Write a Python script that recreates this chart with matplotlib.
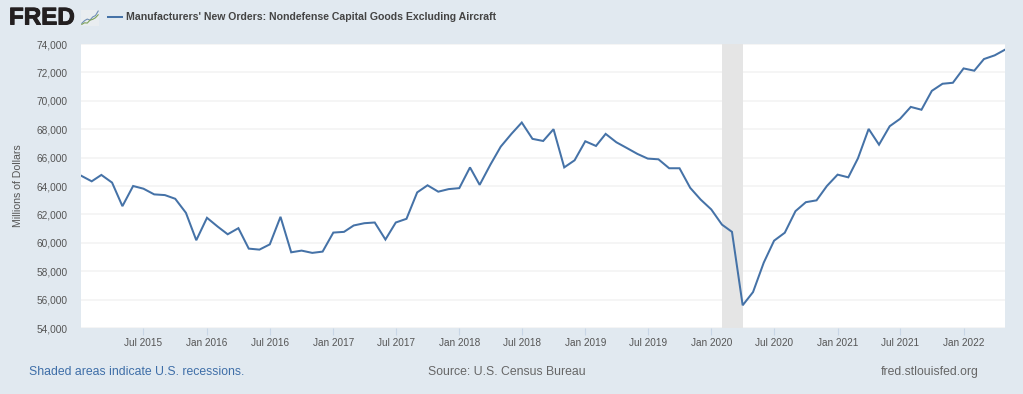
import matplotlib
matplotlib.use('Agg')
import matplotlib.dates as mdates
import matplotlib.patheffects as pe
import matplotlib.pyplot as plt
import pandas as pd

plt.rcParams['font.family'] = ['Liberation Sans', 'DejaVu Sans']

BG = '#e1e9f0'
BLUE = '#4572a7'
W, H = 1023, 394

# monthly values, Jan 2015 to May 2022
orders = [
    64730, 64330, 64780, 64240, 62580, 64000, 63810, 63410, 63360, 63100, 62110, 60180,
    61760, 61140, 60600, 61030, 59590, 59520, 59890, 61830, 59330, 59450, 59290, 59380,
    60720, 60770, 61220, 61380, 61430, 60230, 61430, 61690, 63550, 64050, 63600, 63780,
    63850, 65310, 64080, 65500, 66770, 67670, 68470, 67320, 67170, 68000, 65310, 65810,
    67150, 66820, 67670, 67080, 66680, 66260, 65930, 65880, 65250, 65250, 63870, 63050,
    62350, 61280, 60770, 55600, 56530, 58600, 60150, 60710, 62230, 62860, 62990, 64000,
    64800, 64610, 65950, 68020, 66910, 68210, 68730, 69570, 69370, 70700, 71200, 71270,
    72280, 72120, 72940, 73200, 73600,
]
months = pd.date_range('2015-01-01', periods=len(orders), freq='MS')

recession_start = pd.Timestamp('2020-02-01')
recession_end = pd.Timestamp('2020-04-01')

y_ticks = list(range(54000, 74001, 2000))
x_ticks = pd.date_range('2015-07-01', '2022-01-01', freq='6MS')

# the small chart next to the logo
icon_blue = [1, 2, 2.6, 2.2, 3.4, 3.9, 5.6]
icon_green = [0.6, 1.2, 1.1, 2.2, 2.5, 3.1, 4.2]


def textAt(x, y, s, **kwargs):
    kwargs.setdefault('va', 'center')
    return fig.text(x / W, 1 - y / H, s, **kwargs)


fig = plt.figure(figsize=(W / 100, H / 100), dpi=100, facecolor=BG)
ax = fig.add_axes([81 / W, 1 - 328 / H, 924 / W, 284 / H])

ax.axvspan(recession_start, recession_end, color='#e5e5e5', lw=0, zorder=1)
ax.plot(months, orders, color=BLUE, lw=1.45, zorder=3, solid_joinstyle='miter')

ax.set_xlim(months[0], months[-1])
ax.set_ylim(54000, 74000)
ax.set_yticks(y_ticks)
ax.set_yticklabels([f'{v:,}' for v in y_ticks])
ax.set_xticks(x_ticks)
ax.xaxis.set_major_formatter(mdates.DateFormatter('%b %Y'))

ax.grid(axis='y', color='#f2f2f2', lw=1.1, zorder=0)
ax.set_axisbelow(True)
for spine in ax.spines.values():
    spine.set_visible(False)
ax.tick_params(axis='y', length=0, pad=9.4, labelsize=7.3, labelcolor='#555555')
ax.tick_params(axis='x', length=5, width=0.8, color='#c8d6e6', pad=2,
               labelsize=7.2, labelcolor='#555555')

textAt(18, 186, 'Millions of Dollars', rotation=90, ha='center', fontsize=7.6, color='#555555')

# header
logo = textAt(9, 18, 'FRED', fontsize=17.4, fontweight='bold', color='#231f20')
logo.set_path_effects([pe.withStroke(linewidth=0.7, foreground='#231f20')])
icon = fig.add_axes([81 / W, 1 - 26 / H, 18 / W, 16 / H], facecolor='#e9edf0')
icon.plot(icon_blue, color='#6f8fb5', lw=0.8)
icon.plot(icon_green, color='#7fa35a', lw=0.8)
icon.set_ylim(0, 6)
icon.set_xticks([])
icon.set_yticks([])
for spine in icon.spines.values():
    spine.set_visible(False)

fig.add_artist(plt.Line2D([108 / W, 122 / W], [1 - 17 / H, 1 - 17 / H], color=BLUE, lw=1.45))
textAt(126, 17, "Manufacturers' New Orders: Nondefense Capital Goods Excluding Aircraft",
       fontsize=7.6, fontweight='bold', color='#444444')

# footer
textAt(29, 372, 'Shaded areas indicate U.S. recessions.', fontsize=8.8, color='#3e6ea8')
textAt(428, 372, 'Source: U.S. Census Bureau', fontsize=8.8, color='#666666')
textAt(881, 372, 'fred.stlouisfed.org', fontsize=8.8, color='#666666')

fig.savefig('out.png', dpi=100, facecolor=BG)
